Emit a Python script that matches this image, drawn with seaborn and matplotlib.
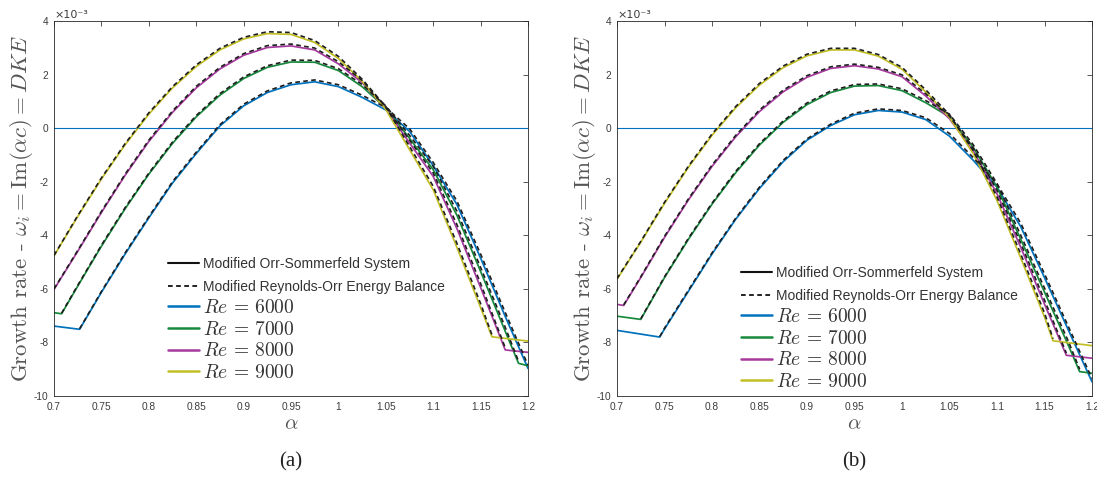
import matplotlib
matplotlib.use('Agg')
import matplotlib.pyplot as plt
import seaborn as sns
import pandas as pd
from matplotlib.lines import Line2D
from matplotlib.ticker import FuncFormatter, MultipleLocator

# ---- data (growth rate in units of 1e-3) ----
grid = [0.725, 0.75, 0.775, 0.8, 0.825, 0.85, 0.875, 0.9, 0.925, 0.95, 0.975,
        1.0, 1.025, 1.05, 1.075, 1.1, 1.125, 1.15]

# panel (a) - Modified Orr-Sommerfeld System
a_alpha_6000 = [0.7, 0.727] + grid[1:] + [1.175, 1.2]
a_os_6000 = [-7.39, -7.51, -6.13, -4.7, -3.35, -2.05, -0.95, 0.08, 0.83, 1.33, 1.62, 1.73,
             1.55, 1.15, 0.68, -0.12, -1.4, -2.85, -4.85, -6.95, -8.97]
a_alpha_7000 = [0.7, 0.708] + grid + [1.175, 1.19, 1.2]
a_os_7000 = [-6.89, -6.93, -5.9, -4.41, -3.01, -1.72, -0.57, 0.42, 1.23, 1.85, 2.27, 2.47,
             2.46, 2.15, 1.55, 0.75, -0.38, -1.55, -3.25, -5.35, -7.5, -8.78, -8.87]
a_alpha_8000 = [0.7] + grid + [1.176, 1.2]
a_os_8000 = [-6.02, -4.6, -3.15, -1.76, -0.5, 0.59, 1.5, 2.21, 2.72, 3.01, 3.07, 2.92,
             2.4, 1.7, 0.72, -0.55, -1.8, -3.75, -5.95, -8.28, -8.37]
a_alpha_9000 = [0.7] + grid + [1.162, 1.2]
a_os_9000 = [-4.77, -3.3, -1.9, -0.62, 0.52, 1.5, 2.3, 2.92, 3.33, 3.53, 3.5, 3.2,
             2.6, 1.75, 0.7, -0.8, -2.3, -4.45, -6.7, -7.79, -7.95]

# panel (a) - Modified Reynolds-Orr Energy Balance
a_ro_alpha_6000 = [0.727] + grid[1:] + [1.175, 1.2]
a_ro_6000 = [-7.49, -6.1, -4.66, -3.31, -2.0, -0.9, 0.13, 0.89, 1.39, 1.69, 1.8, 1.62,
             1.23, 0.77, -0.02, -1.28, -2.72, -4.7, -6.8, -8.85]
a_ro_alpha_7000 = [0.708] + grid + [1.175, 1.19]
a_ro_7000 = [-6.91, -5.87, -4.37, -2.97, -1.68, -0.52, 0.47, 1.29, 1.91, 2.33, 2.54, 2.53,
             2.22, 1.63, 0.83, -0.27, -1.42, -3.1, -5.2, -7.35, -8.7]
a_ro_alpha_8000 = [0.7] + grid + [1.176]
a_ro_8000 = [-6.0, -4.57, -3.11, -1.72, -0.45, 0.64, 1.56, 2.27, 2.78, 3.08, 3.14, 2.99,
             2.48, 1.78, 0.8, -0.44, -1.67, -3.6, -5.8, -8.2]
a_ro_alpha_9000 = [0.7] + grid + [1.162]
a_ro_9000 = [-4.75, -3.27, -1.86, -0.58, 0.57, 1.55, 2.36, 2.98, 3.39, 3.6, 3.57, 3.27,
             2.68, 1.83, 0.8, -0.68, -2.17, -4.3, -6.55, -7.72]

# panel (b) - Modified Orr-Sommerfeld System
b_alpha_6000 = [0.7, 0.745] + grid[1:] + [1.175, 1.2]
b_os_6000 = [-7.55, -7.8, -7.5, -6.1, -4.7, -3.4, -2.25, -1.25, -0.45, 0.1, 0.5, 0.66,
             0.6, 0.32, -0.3, -1.2, -2.2, -3.68, -5.58, -7.53, -9.47]
b_alpha_7000 = [0.7, 0.725] + grid[1:] + [1.175, 1.187, 1.2]
b_os_7000 = [-7.02, -7.14, -5.58, -4.16, -2.84, -1.66, -0.63, 0.22, 0.88, 1.33, 1.57, 1.59,
             1.4, 0.95, 0.42, -0.72, -2.2, -4.15, -6.12, -8.1, -9.09, -9.15]
b_alpha_8000 = [0.7, 0.707] + grid + [1.173, 1.2]
b_os_8000 = [-6.58, -6.62, -5.58, -4.08, -2.69, -1.43, -0.32, 0.62, 1.36, 1.9, 2.23, 2.33,
             2.21, 1.92, 1.2, 0.35, -0.85, -2.45, -4.45, -6.57, -8.48, -8.59]
b_alpha_9000 = [0.7] + grid + [1.159, 1.2]
b_os_9000 = [-5.64, -4.26, -2.81, -1.47, -0.27, 0.76, 1.61, 2.26, 2.7, 2.92, 2.92, 2.69,
             2.2, 1.35, 0.4, -0.95, -2.7, -4.85, -7.05, -7.94, -8.12]

# panel (b) - Modified Reynolds-Orr Energy Balance
b_ro_alpha_6000 = [0.745] + grid[1:] + [1.175, 1.2]
b_ro_6000 = [-7.78, -7.47, -6.06, -4.66, -3.36, -2.2, -1.2, -0.4, 0.15, 0.56, 0.72, 0.66,
             0.39, -0.2, -1.1, -2.08, -3.55, -5.44, -7.4, -9.35]
b_ro_alpha_7000 = [0.725] + grid[1:] + [1.175, 1.187]
b_ro_7000 = [-7.12, -5.55, -4.12, -2.8, -1.61, -0.58, 0.27, 0.94, 1.39, 1.63, 1.65, 1.47,
             1.03, 0.52, -0.62, -2.07, -4.0, -5.97, -7.95, -9.0]
b_ro_alpha_8000 = [0.707] + grid + [1.173]
b_ro_8000 = [-6.6, -5.55, -4.04, -2.65, -1.38, -0.27, 0.68, 1.42, 1.96, 2.29, 2.39, 2.27,
             1.99, 1.28, 0.45, -0.74, -2.32, -4.3, -6.42, -8.4]
b_ro_alpha_9000 = [0.7] + grid + [1.159]
b_ro_9000 = [-5.62, -4.23, -2.77, -1.43, -0.22, 0.81, 1.67, 2.32, 2.76, 2.98, 2.98, 2.75,
             2.27, 1.43, 0.5, -0.84, -2.57, -4.7, -6.9, -7.86]

reynolds = [6000, 7000, 8000, 9000]
colors = ['#0072BD', '#16893C', '#A6399E', '#C2BE26']

panels = {
    'a': {'os': [(a_alpha_6000, a_os_6000), (a_alpha_7000, a_os_7000),
                 (a_alpha_8000, a_os_8000), (a_alpha_9000, a_os_9000)],
          'ro': [(a_ro_alpha_6000, a_ro_6000), (a_ro_alpha_7000, a_ro_7000),
                 (a_ro_alpha_8000, a_ro_8000), (a_ro_alpha_9000, a_ro_9000)]},
    'b': {'os': [(b_alpha_6000, b_os_6000), (b_alpha_7000, b_os_7000),
                 (b_alpha_8000, b_os_8000), (b_alpha_9000, b_os_9000)],
          'ro': [(b_ro_alpha_6000, b_ro_6000), (b_ro_alpha_7000, b_ro_7000),
                 (b_ro_alpha_8000, b_ro_8000), (b_ro_alpha_9000, b_ro_9000)]},
}

# ---- style ----
sns.set_style('white')
plt.rcParams['font.family'] = ['Liberation Sans', 'DejaVu Sans']
plt.rcParams['mathtext.fontset'] = 'cm'
plt.rcParams['axes.unicode_minus'] = False

W, H = 1097, 479
fig = plt.figure(figsize=(W / 100, H / 100), dpi=100)

# axes boxes in pixels: left, right, top, bottom
boxes = {'a': (54, 528, 21, 396), 'b': (617, 1092, 21, 396)}
# legend anchors (pixels): method legend, Reynolds legend
legend_anchor = {'a': ((168, 257), (168, 299)), 'b': ((741, 266), (741, 308))}
grey = '#3c3c3c'

for key in ['a', 'b']:
    l, r, t, b = boxes[key]
    ax = fig.add_axes([l / W, 1 - b / H, (r - l) / W, (b - t) / H])

    ax.axhline(0, color='#0072BD', lw=0.8, zorder=1)

    for (xs, ys), c in zip(panels[key]['os'], colors):
        df = pd.DataFrame({'alpha': xs, 'rate': ys})
        sns.lineplot(data=df, x='alpha', y='rate', ax=ax, color=c, lw=1.25,
                     estimator=None, sort=False, zorder=2)
    for xs, ys in panels[key]['ro']:
        df = pd.DataFrame({'alpha': xs, 'rate': ys})
        sns.lineplot(data=df, x='alpha', y='rate', ax=ax, color='#1e1e1e', lw=1.2,
                     estimator=None, sort=False, zorder=3, dashes=False)
        ax.lines[-1].set_dashes((2.8, 2.0))

    ax.set_xlim(0.7, 1.2)
    ax.set_ylim(-10, 4)
    ax.xaxis.set_major_locator(MultipleLocator(0.05))
    ax.yaxis.set_major_locator(MultipleLocator(2))
    ax.xaxis.set_major_formatter(FuncFormatter(lambda v, p: '{:g}'.format(round(v, 3))))
    ax.yaxis.set_major_formatter(FuncFormatter(lambda v, p: '{:g}'.format(v)))
    ax.tick_params(direction='in', top=True, right=True, length=3.5, width=0.6,
                   colors=grey, labelsize=7.3, pad=4)
    for s in ax.spines.values():
        s.set_color('#262626')
        s.set_linewidth(0.6)

    ax.set_xlabel(r'$\alpha$', fontsize=15, color='#555555', labelpad=2)
    ax.set_ylabel(r'Growth rate - $\omega_i = \mathrm{Im}(\alpha c) = DKE$',
                  fontsize=16.5, color='#555555', family='cmr10', labelpad=-1)
    ax.text(0.0, 1.004, '\u00d710\u207b\u00b3', transform=ax.transAxes, fontsize=8,
            color=grey, ha='left', va='bottom', family=['DejaVu Sans'])

    # method legend (black solid / dashed)
    (mx, my), (rx, ry) = legend_anchor[key]
    h1 = [Line2D([], [], color='#111111', lw=1.5),
          Line2D([], [], color='#111111', lw=1.3, ls=(0, (2.6, 1.9)))]
    l1 = ['Modified Orr-Sommerfeld System', 'Modified Reynolds-Orr Energy Balance']
    leg1 = ax.legend(h1, l1, loc='upper left',
                     bbox_to_anchor=(mx / W, 1 - my / H), bbox_transform=fig.transFigure,
                     frameon=False, fontsize=10, borderpad=0, borderaxespad=0,
                     handlelength=2.2, handletextpad=0.33, labelspacing=0.62)
    for txt in leg1.get_texts():
        txt.set_color('#333333')
    ax.add_artist(leg1)

    # Reynolds number legend
    h2 = [Line2D([], [], color=c, lw=1.8) for c in colors]
    l2 = [r'$Re\,=\,%d$' % re_ for re_ in reynolds]
    leg2 = ax.legend(h2, l2, loc='upper left',
                     bbox_to_anchor=(rx / W, 1 - ry / H), bbox_transform=fig.transFigure,
                     frameon=False, fontsize=14, borderpad=0, borderaxespad=0,
                     handlelength=1.57, handletextpad=0.25, labelspacing=0.19)
    for txt in leg2.get_texts():
        txt.set_color('#333333')

    fig.text(((l + r) / 2) / W, 1 - 462 / H, '(%s)' % key, fontsize=15,
             family='Liberation Serif', ha='center', va='center', color='#222222')

fig.savefig('out.png', dpi=100)
